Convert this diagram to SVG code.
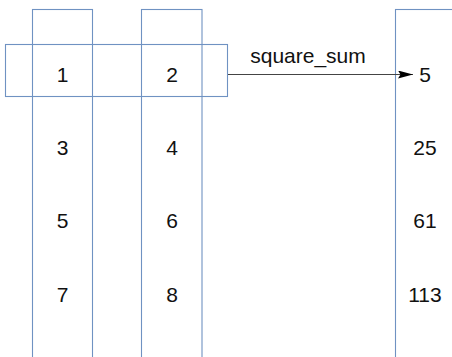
<svg xmlns="http://www.w3.org/2000/svg" width="452" height="357" viewBox="0 0 452 357">
<style>
.box{fill:none;stroke:#6f92c2;stroke-width:1.1}
.t{font-family:"Liberation Sans",Arial,sans-serif;font-size:21px;fill:#111;text-anchor:middle}
.edge{stroke:#444;stroke-width:1.2;fill:none}
</style>
<defs>
<marker id="ah" markerWidth="15" markerHeight="8" refX="15" refY="4" orient="auto" markerUnits="userSpaceOnUse">
<path d="M0,0 L15,4 L0,8 L2.5,4 Z" fill="#000"/>
</marker>
</defs>
<rect width="452" height="357" fill="#fff"/>
<g id="col1">
<rect class="box" x="32.5" y="9.5" width="60" height="360"/>
<text class="t" x="62.5" y="82">1</text>
<text class="t" x="62.5" y="155">3</text>
<text class="t" x="62.5" y="228">5</text>
<text class="t" x="62.5" y="301.5">7</text>
</g>
<g id="col2">
<rect class="box" x="141.5" y="9.5" width="60.5" height="360"/>
<text class="t" x="172" y="82">2</text>
<text class="t" x="172" y="155">4</text>
<text class="t" x="172" y="228">6</text>
<text class="t" x="172" y="301.5">8</text>
</g>
<g id="row1">
<rect class="box" x="5.5" y="44.5" width="222" height="52"/>
</g>
<g id="result">
<rect class="box" x="395.5" y="9.5" width="60" height="360"/>
<text class="t" x="425" y="82">5</text>
<text class="t" x="425" y="155">25</text>
<text class="t" x="425" y="228">61</text>
<text class="t" x="425" y="301.5">113</text>
</g>
<g id="connectors">
<line class="edge" x1="228" y1="74.5" x2="413" y2="74.5" marker-end="url(#ah)"/>
<text class="t" x="308" y="63">square_sum</text>
</g>
</svg>
